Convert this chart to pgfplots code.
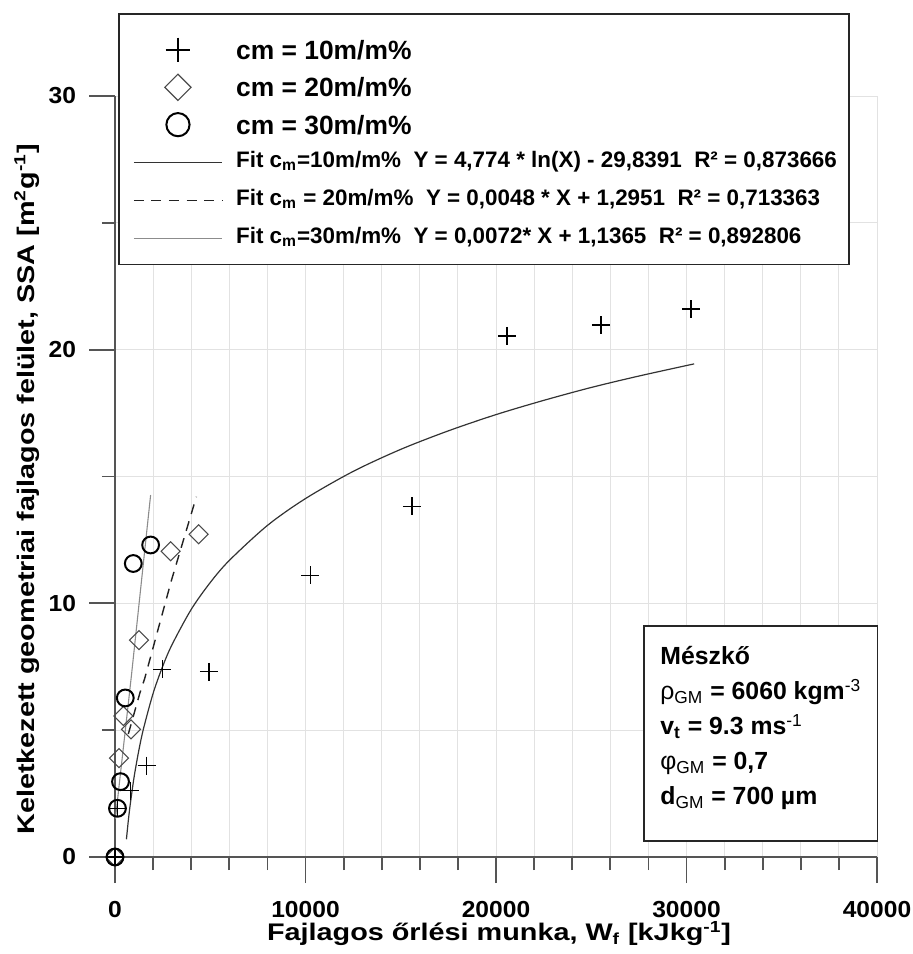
\documentclass[border=0pt]{standalone}
\usepackage{fontspec}
\setmainfont{Liberation Sans}
\newfontfamily\labfont{Liberation Sans}[FakeStretch=1.2]
\newfontfamily\tickfont{Liberation Sans}[FakeStretch=1.06]
\usepackage{pgfplots}
\pgfplotsset{compat=1.18}
\usetikzlibrary{calc}

\definecolor{axisgray}{HTML}{555555}
\definecolor{gridgray}{HTML}{E2E2E2}
\definecolor{fitone}{HTML}{333333}
\definecolor{fittwo}{HTML}{222222}
\definecolor{fitthree}{HTML}{8C8C8C}
\definecolor{diagray}{HTML}{4A4A4A}

\pgfplotsset{
  lineleg/.style={legend image code/.code={\draw[##1] (0pt,0pt) -- (44.2pt,0pt);}},
  markleg/.style={legend image code/.code={%
      \path[draw=none] (0pt,0pt) -- (44.2pt,0pt);
      \draw[##1,/tikz/every mark/.append style={scale=1.38}] plot coordinates {(22.1pt,0pt)};}},
}

\begin{document}
\begin{tikzpicture}
\begin{axis}[
  scale only axis, width=381pt, height=380.5pt,
  xmin=0, xmax=40000, ymin=0, ymax=30,
  axis lines=left,
  axis line style={-, draw=axisgray, line width=0.9pt},
  xtick={0,10000,20000,30000,40000},
  ytick={0,10,20,30},
  minor x tick num=4, minor y tick num=1,
  tick align=outside,
  major tick length=13pt, minor tick length=6.5pt,
  tick style={draw=axisgray, line width=0.9pt},
  minor tick style={draw=axisgray, line width=0.9pt},
  grid=both,
  major grid style={draw=gridgray, line width=0.5pt},
  minor grid style={draw=gridgray, line width=0.5pt},
  scaled x ticks=false,
  /pgf/number format/1000 sep={},
  /pgf/number format/assume math mode=true,
  ticklabel style={font=\tickfont\bfseries\fontsize{11.6}{13}\selectfont},
  xticklabel style={anchor=north, yshift=-5.5pt},
  yticklabel style={anchor=east, xshift=-3pt},
  xlabel={\labfont\bfseries\fontsize{12}{14}\selectfont Fajlagos őrlési munka, W\textsubscript{f} [kJkg\textsuperscript{-1}]},
  ylabel={\labfont\bfseries\fontsize{12}{14}\selectfont Keletkezett geometriai fajlagos felület, SSA [m\textsuperscript{2}g\textsuperscript{-1}]},
  xlabel style={at={(axis description cs:0.504,-0.110)}, anchor=base, inner sep=0pt},
  ylabel style={at={(axis description cs:-0.1063,0.483)}, anchor=base, inner sep=0pt},
  clip=false,
  legend cell align=left,
  legend style={at={(rel axis cs:0.0232,1.0854)}, anchor=north west,
    draw=none, fill=none, inner sep=0pt, row sep=0pt, column sep=6.65pt,
    nodes={inner sep=0pt}},
]
% legend frame
\draw[draw=black!85, line width=0.8pt, fill=white]
  (rel axis cs:0.00525,0.7788) rectangle (rel axis cs:0.9636,1.1078);

\addplot[only marks, mark=+, mark size=4.5pt, draw=black, line width=0.6pt, markleg]
  coordinates {
  (0,0) (150,1.92) (800,2.62) (1660,3.6) (2480,7.4) (4930,7.3)
  (10250,11.1) (15590,13.83) (20580,20.54) (25510,20.97) (30240,21.6)
};
\addlegendentry[font=\bfseries\fontsize{13.2}{15}\selectfont, text height=14.1pt, text depth=4.55pt]{cm = 10m/m\%}

\addplot[only marks, mark=square, mark size=3.36pt, mark options={rotate=45}, draw=diagray, line width=0.55pt, markleg]
  coordinates {
  (0,0) (210,3.9) (440,5.56) (840,5.03) (1260,8.55) (2920,12.05) (4390,12.72)
};
\addlegendentry[font=\bfseries\fontsize{13.2}{15}\selectfont, text height=14.1pt, text depth=4.55pt]{cm = 20m/m\%}

\addplot[only marks, mark=o, mark size=4.2pt, draw=black, line width=1pt, markleg]
  coordinates {
  (0,0) (130,1.92) (290,2.97) (540,6.27) (960,11.57) (1870,12.3)
};
\addlegendentry[font=\bfseries\fontsize{13.2}{15}\selectfont, text height=14.1pt, text depth=4.55pt]{cm = 30m/m\%}

\addplot[draw=fitone, line width=0.6pt, smooth, lineleg] coordinates {
  (600,0.70) (700,1.44) (800,2.07) (1000,3.14) (1250,4.20) (1500,5.07)
  (2000,6.45) (2500,7.51) (3000,8.38) (4000,9.76) (5000,10.82)
  (6000,11.69) (8000,13.07) (10000,14.13) (12500,15.20) (15000,16.07)
  (17500,16.80) (20000,17.44) (22500,18.00) (25000,18.51) (27500,18.96)
  (30400,19.44)
};
\addlegendentry[font=\bfseries\fontsize{11.2}{13}\selectfont, text height=12pt, text depth=7pt]{Fit c\textsubscript{m}=10m/m\%\ \ Y = 4,774 * ln(X) - 29,8391\ \ R² = 0,873666}

\addplot[draw=fittwo, line width=0.7pt, dash pattern=on 5pt off 3.8pt, lineleg] coordinates {
  (700,4.85) (1300,6.45) (1560,7.04) (2960,10.9) (4270,14.2)
};
\addlegendentry[font=\bfseries\fontsize{11.2}{13}\selectfont, text height=12pt, text depth=7pt]{Fit c\textsubscript{m} = 20m/m\%\ \ Y = 0,0048 * X + 1,2951\ \ R² = 0,713363}

\addplot[draw=fitthree, line width=0.55pt, lineleg] coordinates {
  (20,1.5) (855,7.1) (1870,14.27)
};
\addlegendentry[font=\bfseries\fontsize{11.2}{13}\selectfont, text height=12pt, text depth=7pt]{Fit c\textsubscript{m}=30m/m\%\ \ Y = 0,0072* X + 1,1365\ \ R² = 0,892806}

% material box
\draw[draw=black!85, line width=0.8pt, fill=white]
  (rel axis cs:0.6942,0.0214) rectangle (rel axis cs:1.0009,0.3035);
\node[anchor=base west, inner sep=0pt] at (rel axis cs:0.7152,0.2523) {%
  \bfseries\fontsize{12.4}{17.5}\selectfont
  \begin{tabular}[t]{@{}l@{}}
  Mészkő\\
  {\mdseries ρ\textsubscript{GM}} = 6060 kgm{\mdseries\textsuperscript{-3}}\\
  v\textsubscript{t} = 9.3 ms{\mdseries\textsuperscript{-1}}\\
  {\mdseries φ\textsubscript{GM}} = 0,7\\
  d{\mdseries\textsubscript{GM}} = 700 µm
  \end{tabular}};
\end{axis}
\pgfresetboundingbox
\path ($(current axis.south west)+(-57.5pt,-48.5pt)$) rectangle ($(current axis.north east)+(17.5pt,48pt)$);
\end{tikzpicture}
\end{document}
